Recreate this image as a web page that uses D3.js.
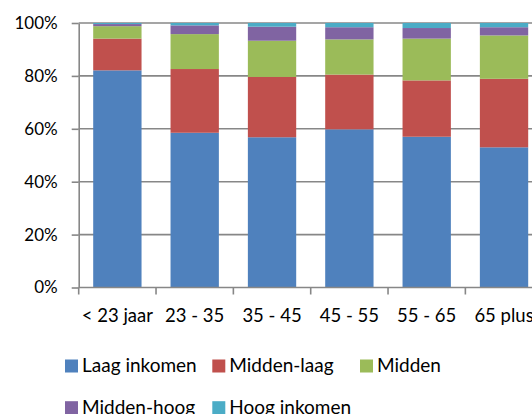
<!DOCTYPE html>
<html><head><meta charset="utf-8">
<script src="https://cdn.jsdelivr.net/npm/d3@7"></script>
<style>
html,body{margin:0;padding:0;background:#fff;overflow:hidden;}
svg{display:block;font-family:Lato, "Open Sans", sans-serif;}
</style></head>
<body>
<svg id="c" width="532" height="414"></svg>
<script>
const categories = ["< 23 jaar", "23 - 35", "35 - 45", "45 - 55", "55 - 65", "65 plus"];
const seriesNames = ["Laag inkomen", "Midden-laag", "Midden", "Midden-hoog", "Hoog inkomen"];
const laag       = [82.1, 58.5, 56.8, 59.8, 57.0, 53.0];
const middenLaag = [12.0, 24.1, 22.8, 20.7, 21.3, 25.9];
const midden     = [4.7, 13.2, 13.7, 13.3, 15.8, 16.4];
const middenHoog = [0.8, 3.3, 5.3, 4.6, 4.0, 3.1];
const hoog       = [0.4, 0.9, 1.4, 1.6, 1.9, 1.6];
const yTicks = [0, 0.2, 0.4, 0.6, 0.8, 1.0];
const colors = ["#4F81BD", "#C0504D", "#9BBB59", "#8064A2", "#4BACC6"];

const seriesValues = [laag, middenLaag, midden, middenHoog, hoog];
const rows = categories.map((c, i) => {
  const r = {cat: c};
  const tot = d3.sum(seriesValues, s => s[i]);
  seriesNames.forEach((n, k) => r[n] = seriesValues[k][i] / tot);
  return r;
});
const stacked = d3.stack().keys(seriesNames)(rows);

const svg = d3.select("#c");
const pLeft = 78.7, pRight = 542.7, pTop = 23, pBottom = 287.5;
const x = d3.scaleBand().domain(categories).range([pLeft, pRight]).paddingInner(0.375).paddingOuter(0.1875);
const y = d3.scaleLinear().domain([0, 1]).range([pBottom, pTop]);
const color = d3.scaleOrdinal().domain(seriesNames).range(colors);
const gridColor = "#878787";

// gridlines
svg.append("g").selectAll("line").data(yTicks.filter(t => t > 0)).join("line")
  .attr("x1", pLeft).attr("x2", pRight)
  .attr("y1", d => y(d)).attr("y2", d => y(d))
  .attr("stroke", gridColor).attr("stroke-width", 1.6);

// y axis
const yAxis = svg.append("g").attr("transform", `translate(${pLeft},0)`)
  .call(d3.axisLeft(y).tickValues(yTicks).tickFormat(d3.format(".0%")).tickSize(7).tickSizeOuter(0));
yAxis.select(".domain").attr("stroke", gridColor).attr("stroke-width", 1.6);
yAxis.selectAll(".tick line").attr("stroke", gridColor).attr("stroke-width", 1.6);
yAxis.selectAll(".tick text").attr("font-size", 17).attr("fill", "#000").attr("x", -21)
  .attr("font-family", "Lato, sans-serif");

// bars
svg.append("g").selectAll("g").data(stacked).join("g")
  .attr("fill", d => color(d.key))
  .selectAll("rect").data(d => d).join("rect")
  .attr("x", d => x(d.data.cat))
  .attr("width", x.bandwidth())
  .attr("y", d => y(d[1]))
  .attr("height", d => y(d[0]) - y(d[1]));

// x axis
const step = x.step();
const tickPos = d3.range(categories.length + 1).map(i => pLeft + i * step);
svg.append("line").attr("x1", pLeft).attr("x2", pRight).attr("y1", pBottom).attr("y2", pBottom)
  .attr("stroke", gridColor).attr("stroke-width", 1.6);
svg.append("g").selectAll("line").data(tickPos).join("line")
  .attr("x1", d => d).attr("x2", d => d).attr("y1", pBottom).attr("y2", pBottom + 7)
  .attr("stroke", gridColor).attr("stroke-width", 1.6);
svg.append("g").selectAll("text").data(categories).join("text")
  .attr("x", d => x(d) + x.bandwidth() / 2)
  .attr("y", 321.7)
  .attr("text-anchor", "middle")
  .attr("font-size", 18.5)
  .attr("fill", "#000")
  .text(d => d);

// legend
const legPos = [[65, 0], [212.3, 0], [360, 0], [65, 1], [212.3, 1]];
const lg = svg.append("g").selectAll("g").data(seriesNames).join("g")
  .attr("transform", (d, i) => `translate(${legPos[i][0]},${359.5 + legPos[i][1] * 41.7})`);
lg.append("rect").attr("width", 13).attr("height", 13).attr("fill", d => color(d));
lg.append("text").attr("x", 17).attr("y", 12.8).attr("font-size", 19).attr("fill", "#000").text(d => d);
</script>
</body></html>
